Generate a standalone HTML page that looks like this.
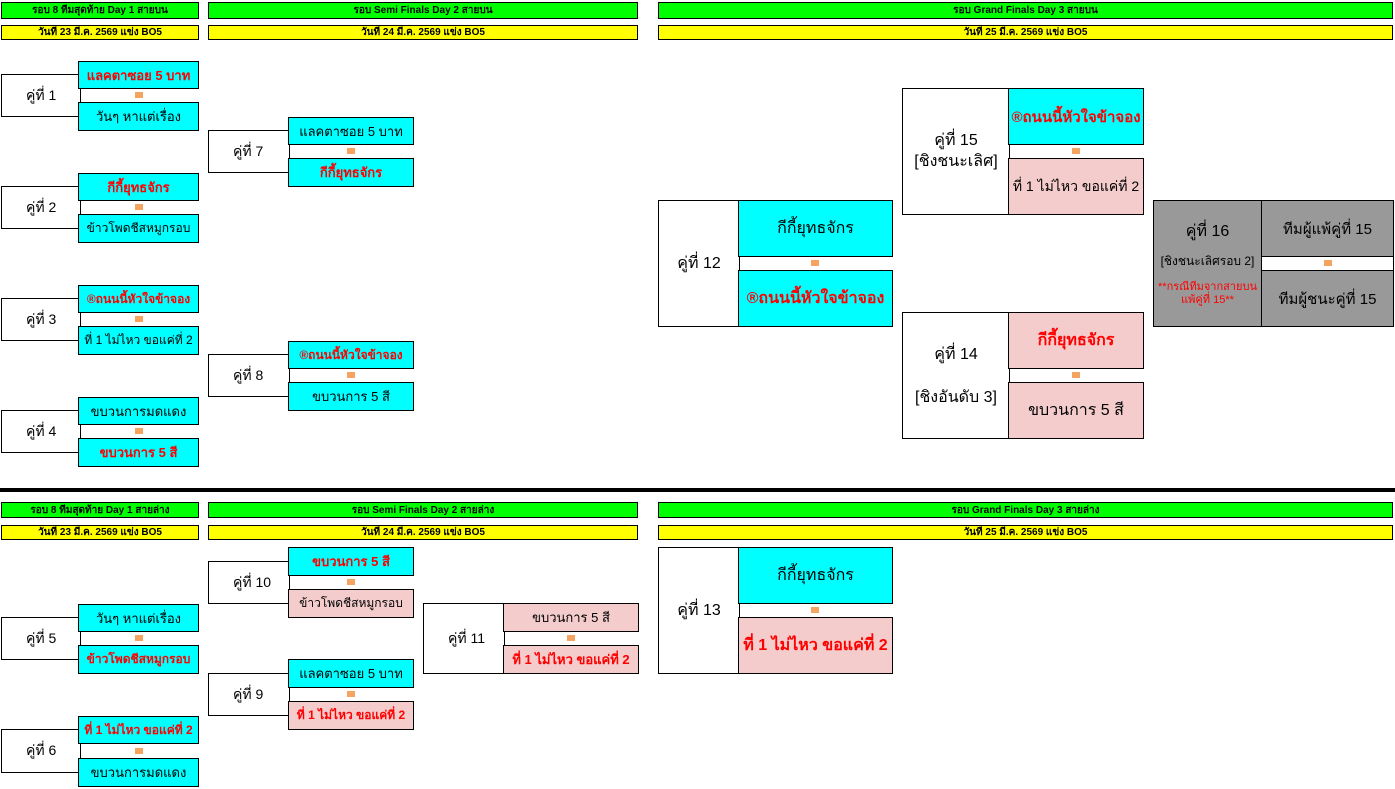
<!DOCTYPE html>
<html><head><meta charset="utf-8"><style>
body{margin:0;width:1395px;height:789px;background:#fff;position:relative;overflow:hidden;font-family:"Liberation Sans","DejaVu Sans",sans-serif;}
.a{position:absolute;box-sizing:border-box;display:flex;align-items:center;justify-content:center;text-align:center;color:#000;white-space:nowrap;overflow:hidden;}
.g{background:#00ff00;border:1px solid #000;font-size:10px;font-weight:bold;}
.y{background:#ffff00;border:1px solid #000;font-size:10px;font-weight:bold;}
.l{background:#fff;border:1px solid #000;font-size:14px;justify-content:flex-start;padding-left:24px;}
.L{background:#fff;border:1px solid #000;font-size:16px;}
.c{background:#00ffff;border:1px solid #000;font-size:13px;}
.p{background:#f4cccc;border:1px solid #000;font-size:13px;}
.big{font-size:16px;}
.r{color:#f00;font-weight:bold;}
.s{font-size:12px;}
.vs{position:absolute;width:8px;height:6px;background:#f4a460;}
</style></head><body>
<div class="a g" style="left:1px;top:2px;width:198px;height:17px">รอบ 8 ทีมสุดท้าย Day 1 สายบน</div>
<div class="a g" style="left:208px;top:2px;width:430px;height:17px">รอบ Semi Finals Day 2 สายบน</div>
<div class="a g" style="left:658px;top:2px;width:735px;height:17px">รอบ Grand Finals Day 3 สายบน</div>
<div class="a y" style="left:1px;top:25px;width:198px;height:15px">วันที่ 23 มี.ค. 2569 แข่ง BO5</div>
<div class="a y" style="left:208px;top:25px;width:430px;height:15px">วันที่ 24 มี.ค. 2569 แข่ง BO5</div>
<div class="a y" style="left:658px;top:25px;width:735px;height:15px">วันที่ 25 มี.ค. 2569 แข่ง BO5</div>
<div style="position:absolute;left:0;top:488px;width:1395px;height:4px;background:#000"></div>
<div class="a g" style="left:1px;top:502px;width:198px;height:16px">รอบ 8 ทีมสุดท้าย Day 1 สายล่าง</div>
<div class="a g" style="left:208px;top:502px;width:430px;height:16px">รอบ Semi Finals Day 2 สายล่าง</div>
<div class="a g" style="left:658px;top:502px;width:735px;height:16px">รอบ Grand Finals Day 3 สายล่าง</div>
<div class="a y" style="left:1px;top:525px;width:198px;height:15px">วันที่ 23 มี.ค. 2569 แข่ง BO5</div>
<div class="a y" style="left:208px;top:525px;width:430px;height:15px">วันที่ 24 มี.ค. 2569 แข่ง BO5</div>
<div class="a y" style="left:658px;top:525px;width:735px;height:15px">วันที่ 25 มี.ค. 2569 แข่ง BO5</div>

<div class="a l" style="left:1px;top:74px;width:80px;height:43px">คู่ที่ 1</div>
<div class="a c r" style="left:78px;top:61px;width:121px;height:28px">แลคตาซอย 5 บาท</div>
<div class="vs" style="left:135px;top:92px"></div>
<div class="a c" style="left:78px;top:102px;width:121px;height:29px">วันๆ หาแต่เรื่อง</div>
<div class="a l" style="left:1px;top:186px;width:80px;height:43px">คู่ที่ 2</div>
<div class="a c r" style="left:78px;top:173px;width:121px;height:28px">กีกี้ยุทธจักร</div>
<div class="vs" style="left:135px;top:204px"></div>
<div class="a c s" style="left:78px;top:214px;width:121px;height:29px">ข้าวโพดชีสหมูกรอบ</div>
<div class="a l" style="left:1px;top:298px;width:80px;height:43px">คู่ที่ 3</div>
<div class="a c r s" style="left:78px;top:285px;width:121px;height:28px">®ถนนนี้หัวใจข้าจอง</div>
<div class="vs" style="left:135px;top:316px"></div>
<div class="a c s" style="left:78px;top:326px;width:121px;height:29px">ที่ 1 ไม่ไหว ขอแค่ที่ 2</div>
<div class="a l" style="left:1px;top:410px;width:80px;height:43px">คู่ที่ 4</div>
<div class="a c" style="left:78px;top:397px;width:121px;height:28px">ขบวนการมดแดง</div>
<div class="vs" style="left:135px;top:428px"></div>
<div class="a c r" style="left:78px;top:438px;width:121px;height:29px">ขบวนการ 5 สี</div>
<div class="a l" style="left:208px;top:130px;width:82px;height:43px">คู่ที่ 7</div>
<div class="a c" style="left:288px;top:117px;width:126px;height:28px">แลคตาซอย 5 บาท</div>
<div class="vs" style="left:347px;top:148px"></div>
<div class="a c r" style="left:288px;top:158px;width:126px;height:29px">กีกี้ยุทธจักร</div>
<div class="a l" style="left:208px;top:354px;width:82px;height:43px">คู่ที่ 8</div>
<div class="a c r s" style="left:288px;top:341px;width:126px;height:28px">®ถนนนี้หัวใจข้าจอง</div>
<div class="vs" style="left:347px;top:372px"></div>
<div class="a c" style="left:288px;top:382px;width:126px;height:29px">ขบวนการ 5 สี</div>
<div class="a L" style="left:658px;top:200px;width:82px;height:127px">คู่ที่ 12</div>
<div class="a c big" style="left:738px;top:200px;width:155px;height:57px">กีกี้ยุทธจักร</div>
<div class="vs" style="left:811px;top:260px"></div>
<div class="a c big r" style="left:738px;top:270px;width:155px;height:57px">®ถนนนี้หัวใจข้าจอง</div>
<div class="a L" style="left:902px;top:88px;width:108px;height:127px;line-height:1.3">คู่ที่ 15<br>[ชิงชนะเลิศ]</div>
<div class="a c r" style="left:1008px;top:88px;width:136px;height:57px;font-size:15px">®ถนนนี้หัวใจข้าจอง</div>
<div class="vs" style="left:1072px;top:148px"></div>
<div class="a p" style="left:1008px;top:158px;width:136px;height:57px;font-size:14px">ที่ 1 ไม่ไหว ขอแค่ที่ 2</div>
<div class="a L" style="left:902px;top:312px;width:108px;height:127px;flex-direction:column;gap:18px"><span>คู่ที่ 14</span><span>[ชิงอันดับ 3]</span></div>
<div class="a p big r" style="left:1008px;top:312px;width:136px;height:57px">กีกี้ยุทธจักร</div>
<div class="vs" style="left:1072px;top:372px"></div>
<div class="a p big" style="left:1008px;top:382px;width:136px;height:57px">ขบวนการ 5 สี</div>
<div class="a" style="left:1153px;top:200px;width:241px;height:127px;background:#999;border:1px solid #000"></div>
<div class="a" style="left:1262px;top:257px;width:131px;height:13px;background:#fff"></div>
<div class="vs" style="left:1324px;top:260px"></div>
<div class="a" style="left:1153px;top:200px;width:109px;height:127px;border:1px solid #000;background:#999;flex-direction:column;justify-content:flex-start;padding-top:18px">
<div style="font-size:16px">คู่ที่ 16</div>
<div style="font-size:12px;margin-top:8px">[ชิงชนะเลิศรอบ 2]</div>
<div style="font-size:11px;color:#f00;margin-top:10px;line-height:1.15">**กรณีทีมจากสายบน<br>แพ้คู่ที่ 15**</div></div>
<div class="a" style="left:1261px;top:200px;width:133px;height:57px;background:#999;border:1px solid #000;font-size:15px">ทีมผู้แพ้คู่ที่ 15</div>
<div class="a" style="left:1261px;top:270px;width:133px;height:57px;background:#999;border:1px solid #000;font-size:15px">ทีมผู้ชนะคู่ที่ 15</div>

<div class="a l" style="left:1px;top:617px;width:80px;height:43px">คู่ที่ 5</div>
<div class="a c" style="left:78px;top:604px;width:121px;height:28px">วันๆ หาแต่เรื่อง</div>
<div class="vs" style="left:135px;top:635px"></div>
<div class="a c r s" style="left:78px;top:645px;width:121px;height:29px">ข้าวโพดชีสหมูกรอบ</div>
<div class="a l" style="left:1px;top:729px;width:80px;height:44px">คู่ที่ 6</div>
<div class="a c r s" style="left:78px;top:716px;width:121px;height:28px">ที่ 1 ไม่ไหว ขอแค่ที่ 2</div>
<div class="vs" style="left:135px;top:748px"></div>
<div class="a c" style="left:78px;top:758px;width:121px;height:29px">ขบวนการมดแดง</div>
<div class="a l" style="left:208px;top:561px;width:82px;height:43px">คู่ที่ 10</div>
<div class="a c r" style="left:288px;top:547px;width:126px;height:29px">ขบวนการ 5 สี</div>
<div class="vs" style="left:347px;top:579px"></div>
<div class="a p s" style="left:288px;top:589px;width:126px;height:29px">ข้าวโพดชีสหมูกรอบ</div>
<div class="a l" style="left:208px;top:673px;width:82px;height:43px">คู่ที่ 9</div>
<div class="a c" style="left:288px;top:659px;width:126px;height:29px">แลคตาซอย 5 บาท</div>
<div class="vs" style="left:347px;top:691px"></div>
<div class="a p r s" style="left:288px;top:701px;width:126px;height:29px">ที่ 1 ไม่ไหว ขอแค่ที่ 2</div>
<div class="a l" style="left:423px;top:603px;width:82px;height:71px">คู่ที่ 11</div>
<div class="a p" style="left:503px;top:603px;width:136px;height:29px">ขบวนการ 5 สี</div>
<div class="vs" style="left:567px;top:635px"></div>
<div class="a p r" style="left:503px;top:645px;width:136px;height:29px">ที่ 1 ไม่ไหว ขอแค่ที่ 2</div>
<div class="a L" style="left:658px;top:547px;width:82px;height:127px">คู่ที่ 13</div>
<div class="a c big" style="left:738px;top:547px;width:155px;height:57px">กีกี้ยุทธจักร</div>
<div class="vs" style="left:811px;top:607px"></div>
<div class="a p big r" style="left:738px;top:617px;width:155px;height:57px">ที่ 1 ไม่ไหว ขอแค่ที่ 2</div>
</body></html>
